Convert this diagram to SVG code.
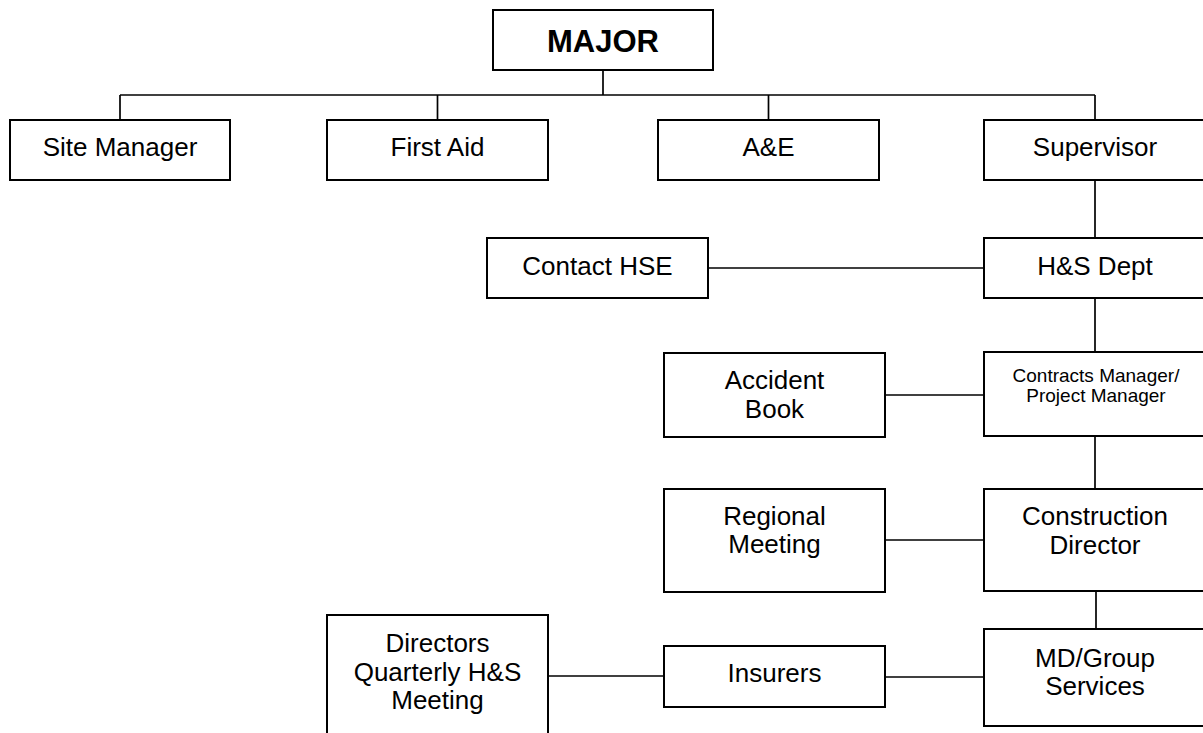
<svg xmlns="http://www.w3.org/2000/svg" width="1203" height="733" viewBox="0 0 1203 733">
<style>
.box{fill:#fff;stroke:#000;stroke-width:2}
.t{font-family:"Liberation Sans",Arial,sans-serif;font-size:26px;fill:#000;text-anchor:middle}
.s{font-size:19px}
.b{font-size:31px;font-weight:bold}
.c line{stroke:#000;stroke-width:1.7}
</style>
<rect width="1203" height="733" fill="#fff"/>
<g class="c" id="connectors">
<line x1="603" y1="70" x2="603" y2="95"/>
<line x1="120" y1="95" x2="1095" y2="95"/>
<line x1="120" y1="95" x2="120" y2="120"/>
<line x1="437.5" y1="95" x2="437.5" y2="120"/>
<line x1="768.5" y1="95" x2="768.5" y2="120"/>
<line x1="1095" y1="95" x2="1095" y2="120"/>
<line x1="1095" y1="180" x2="1095" y2="238"/>
<line x1="708" y1="268" x2="984" y2="268"/>
<line x1="1095" y1="298" x2="1095" y2="352"/>
<line x1="885" y1="395" x2="984" y2="395"/>
<line x1="1095" y1="436" x2="1095" y2="489"/>
<line x1="885" y1="540" x2="984" y2="540"/>
<line x1="1096" y1="591" x2="1096" y2="629"/>
<line x1="548" y1="676" x2="664" y2="676"/>
<line x1="885" y1="677" x2="984" y2="677"/>
</g>
<g id="major"><rect class="box" x="493" y="10" width="220" height="60"/><text class="t b" x="603" y="52">MAJOR</text></g>
<g id="site-manager"><rect class="box" x="10" y="120" width="220" height="60"/><text class="t" x="120" y="156">Site Manager</text></g>
<g id="first-aid"><rect class="box" x="327" y="120" width="221" height="60"/><text class="t" x="437.5" y="156">First Aid</text></g>
<g id="ae"><rect class="box" x="658" y="120" width="221" height="60"/><text class="t" x="768.5" y="156">A&amp;E</text></g>
<g id="supervisor"><rect class="box" x="984" y="120" width="222" height="60"/><text class="t" x="1095" y="156">Supervisor</text></g>
<g id="contact-hse"><rect class="box" x="487" y="238" width="221" height="60"/><text class="t" x="597.5" y="275">Contact HSE</text></g>
<g id="hs-dept"><rect class="box" x="984" y="238" width="222" height="60"/><text class="t" x="1095" y="275">H&amp;S Dept</text></g>
<g id="accident-book"><rect class="box" x="664" y="353" width="221" height="84"/><text class="t" x="774.5" y="389">Accident</text><text class="t" x="774.5" y="418">Book</text></g>
<g id="contracts-manager"><rect class="box" x="984" y="352" width="222" height="84"/><text class="t s" x="1096" y="382">Contracts Manager/</text><text class="t s" x="1096" y="402">Project Manager</text></g>
<g id="regional-meeting"><rect class="box" x="664" y="489" width="221" height="103"/><text class="t" x="774.5" y="525">Regional</text><text class="t" x="774.5" y="553">Meeting</text></g>
<g id="construction-director"><rect class="box" x="984" y="489" width="222" height="102"/><text class="t" x="1095" y="525">Construction</text><text class="t" x="1095" y="554">Director</text></g>
<g id="directors-meeting"><rect class="box" x="327" y="615" width="221" height="130"/><text class="t" x="437.5" y="652">Directors</text><text class="t" x="437.5" y="681">Quarterly H&amp;S</text><text class="t" x="437.5" y="709">Meeting</text></g>
<g id="insurers"><rect class="box" x="664" y="646" width="221" height="61"/><text class="t" x="774.5" y="682">Insurers</text></g>
<g id="md-group"><rect class="box" x="984" y="629" width="222" height="97"/><text class="t" x="1095" y="667">MD/Group</text><text class="t" x="1095" y="695">Services</text></g>
</svg>
